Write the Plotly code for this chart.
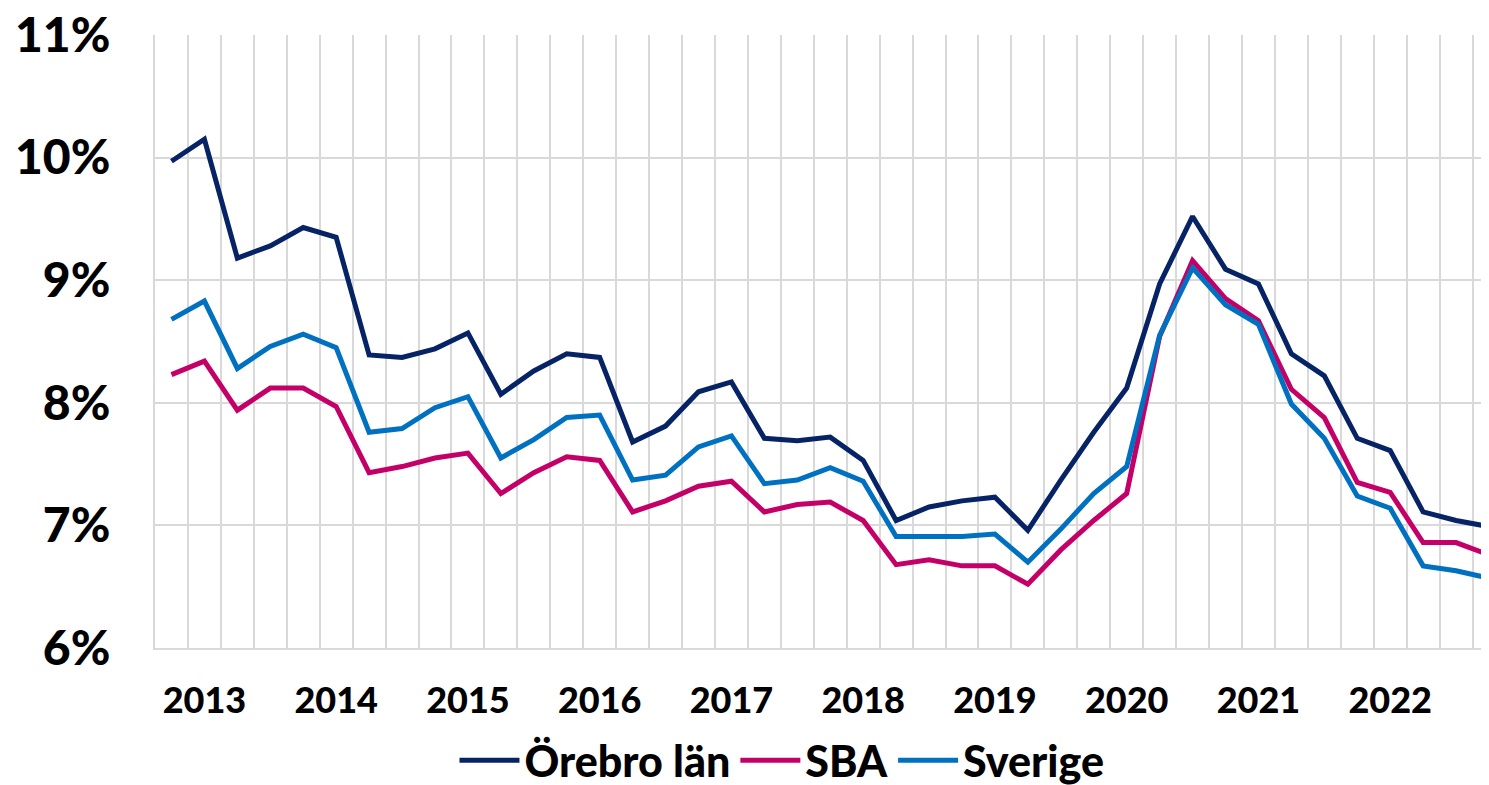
import plotly.graph_objects as go

# Kvartalsvärden, andel (%)
quarters = list(range(41))
year_ticks = [1, 5, 9, 13, 17, 21, 25, 29, 33, 37]
year_labels = ["2013", "2014", "2015", "2016", "2017",
               "2018", "2019", "2020", "2021", "2022"]
pct_ticks = [6, 7, 8, 9, 10, 11]
pct_labels = ["6%", "7%", "8%", "9%", "10%", "11%"]

orebro = [9.97, 10.15, 9.18, 9.28, 9.43, 9.35, 8.39, 8.37, 8.44, 8.57,
          8.07, 8.26, 8.40, 8.37, 7.68, 7.81, 8.09, 8.17, 7.71, 7.69,
          7.72, 7.53, 7.04, 7.15, 7.20, 7.23, 6.96, 7.37, 7.76, 8.12,
          8.97, 9.52, 9.09, 8.97, 8.40, 8.22, 7.71, 7.61, 7.11, 7.04, 6.99]
sba = [8.23, 8.34, 7.94, 8.12, 8.12, 7.97, 7.43, 7.48, 7.55, 7.59,
       7.26, 7.43, 7.56, 7.53, 7.11, 7.20, 7.32, 7.36, 7.11, 7.17,
       7.19, 7.04, 6.68, 6.72, 6.67, 6.67, 6.52, 6.80, 7.04, 7.26,
       8.54, 9.16, 8.85, 8.67, 8.11, 7.88, 7.35, 7.27, 6.86, 6.86, 6.76]
sverige = [8.68, 8.83, 8.28, 8.46, 8.56, 8.45, 7.76, 7.79, 7.96, 8.05,
           7.55, 7.70, 7.88, 7.90, 7.37, 7.41, 7.64, 7.73, 7.34, 7.37,
           7.47, 7.36, 6.91, 6.91, 6.91, 6.93, 6.70, 6.97, 7.26, 7.48,
           8.55, 9.10, 8.80, 8.64, 7.99, 7.71, 7.24, 7.14, 6.67, 6.63, 6.57]

SERIES = [("Örebro län", orebro, "#062366"),
          ("SBA", sba, "#C40068"),
          ("Sverige", sverige, "#0070C0")]

FONT = "Futura, 'Century Gothic', Lato, sans-serif"
GRID = "#D9D9D9"

fig = go.Figure()
for name, vals, color in SERIES:
    fig.add_trace(go.Scatter(
        x=quarters, y=vals, name=name, mode="lines",
        line=dict(color=color, width=5),
    ))

# sidan har 8 px marginal runt diagrammet -> storlek och marginaler kompenserade
fig.update_layout(
    width=1481, height=777,
    paper_bgcolor="white", plot_bgcolor="white",
    font=dict(family=FONT, color="black", weight=900),
    margin=dict(t=27, b=137, l=147, r=0, autoexpand=False),
    showlegend=True,
    legend=dict(orientation="h", x=0.47, xanchor="center", y=-0.183, yanchor="middle",
                font=dict(size=43, family=FONT, weight=900),
                itemwidth=60, tracegroupgap=0),
    xaxis=dict(
        range=[-0.5, 40.0], automargin=False,
        tickmode="array", tickvals=year_ticks, ticktext=year_labels,
        tickfont=dict(size=36, family=FONT, weight=900),
        showgrid=False, zeroline=False, ticks="",
        ticklabelstandoff=20,
        showline=True, linecolor=GRID, linewidth=2,
        minor=dict(tickmode="linear", tick0=-0.5, dtick=1,
                   showgrid=True, gridcolor=GRID, gridwidth=2, ticks=""),
    ),
    yaxis=dict(
        range=[6, 11], tickmode="array", tickvals=pct_ticks, ticktext=pct_labels,
        automargin=False, ticklabeloverflow="allow",
        tickfont=dict(size=48, family=FONT, weight=900),
        showgrid=True, gridcolor=GRID, gridwidth=2,
        zeroline=False, ticks="", ticklabelstandoff=33,
        showline=True, linecolor=GRID, linewidth=2,
    ),
)

fig.write_html("out.html")
